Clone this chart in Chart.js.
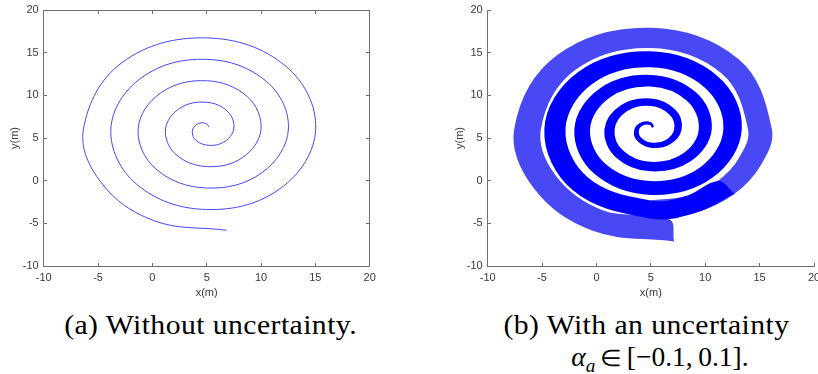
<!DOCTYPE html>
<html>
<head>
<meta charset="utf-8">
<script src="https://cdn.jsdelivr.net/npm/chart.js@4.4.0/dist/chart.umd.min.js"></script>
<style>
  html, body { margin: 0; padding: 0; background: #fff; }
  #page { position: relative; width: 818px; height: 374px; overflow: hidden; background: #fff; }
  canvas { position: absolute; top: 0; }
  #chartA { left: 0; }
  #chartB { left: 409px; }
  .caption { position: absolute; font-family: "Liberation Serif", "Times New Roman", serif; font-size: 27.5px;
             line-height: 32px; color: #000; text-align: center; white-space: nowrap; }
  .caption span { display: inline-block; transform: scaleX(1.08); letter-spacing: 0.4px; }
  .caption span.math { transform: none; letter-spacing: 0; }
  .caption sub { font-size: 0.7em; line-height: 0; vertical-align: -0.3em; }
  .caption .rel { font-size: 0.85em; }
</style>
</head>
<body>
<div id="page">
  <canvas id="chartA" width="409" height="300"></canvas>
  <canvas id="chartB" width="409" height="300"></canvas>
  <div class="caption" style="left:0; width:422px; top:309px;"><span>(a) Without uncertainty.</span></div>
  <div class="caption" style="left:400px; width:492px; top:309px;"><span>(b) With an uncertainty</span></div>
  <div class="caption" style="left:412px; width:496px; top:341px;"><span class="math"><i>α</i><sub><i>a</i></sub>&thinsp;<span class="rel">∈</span>&thinsp;[−0.1,&thinsp;0.1].</span></div>
</div>
<script>
// axis ticks, same on both panels
const tickValues = [-10, -5, 0, 5, 10, 15, 20];

// (a) nominal trajectory, read every eighth of a turn from the inner hook out to the end
const pathX = [5.20, 4.98, 4.31, 3.72, 3.86, 4.98, 6.53, 7.49, 6.97, 4.98, 2.53, 1.21, 2.09, 4.98, 8.31, 10.00,
               8.75, 4.98, 0.75, -1.31, 0.31, 4.98, 10.09, 12.52, 10.53, 4.98, -1.02, -3.82, -1.47, 4.98, 11.86, 15.03,
               12.31, 4.98, -2.80, -6.34, -4.70, 0.11, 6.83];
const pathY = [6.27, 6.68, 6.72, 6.05, 4.94, 4.17, 4.50, 6.05, 8.05, 9.19, 8.49, 6.05, 3.16, 1.65, 2.72, 6.05,
               9.83, 11.71, 10.27, 6.05, 1.39, -0.86, 0.94, 6.05, 11.60, 14.22, 12.05, 6.05, -0.39, -3.38, -0.84, 6.05,
               13.38, 16.73, 13.83, 6.05, -0.24, -4.67, -5.81];

// (b) outer and inner edge of the uncertainty band (two extra points around the colour change)
const bandOuterX = [5.22, 4.98, 4.24, 3.59, 3.75, 4.98, 6.69, 7.74, 7.17, 4.98, 2.29, 0.83, 1.80, 4.98, 8.64, 10.51,
                    9.13, 4.98, 0.33, -1.94, -0.16, 4.98, 10.60, 13.27, 11.08, 4.98, -1.62, -4.70, -2.11, 4.98, 9.01, 12.55,
                    15.03, 16.03, 13.04, 4.98, -3.58, -7.47, -5.67, -0.37, 7.02];
const bandOuterY = [6.29, 6.74, 6.78, 6.05, 4.83, 3.98, 4.34, 6.05, 8.25, 9.51, 8.74, 6.05, 2.87, 1.21, 2.39, 6.05,
                    10.21, 12.27, 10.69, 6.05, 0.92, -1.55, 0.43, 6.05, 12.16, 15.04, 12.65, 6.05, -1.04, -4.32, -3.69, -1.53,
                    1.88, 6.05, 14.11, 17.80, 14.60, 6.05, -0.86, -5.74, -6.99];
const bandInnerX = [5.18, 4.98, 4.38, 3.84, 3.98, 4.98, 6.38, 7.24, 6.77, 4.98, 2.78, 1.58, 2.38, 4.98, 7.97, 9.50,
                    8.37, 4.98, 1.18, -0.68, 0.78, 4.98, 9.57, 11.76, 9.97, 4.98, -0.42, -2.94, -0.82, 4.98, 8.28, 11.17,
                    13.20, 14.02, 11.57, 4.98, -2.02, -5.20, -3.74, 0.60, 6.65];
const bandInnerY = [6.25, 6.62, 6.65, 6.05, 5.05, 4.35, 4.65, 6.05, 7.85, 8.88, 8.25, 6.05, 3.45, 2.09, 3.05, 6.05,
                    9.45, 11.14, 9.85, 6.05, 1.85, -0.17, 1.45, 6.05, 11.05, 13.40, 11.45, 6.05, 0.25, -2.43, -1.92, -0.15,
                    2.64, 6.05, 12.65, 15.66, 13.05, 6.05, 0.39, -3.60, -4.62];
const lightFrom = 31; // the outermost turn of the band is lighter from this point on

const lineBlue = 'rgb(70, 70, 255)';
const solidBlue = 'rgb(0, 0, 255)';
const lightBlue = 'rgb(72, 72, 244)';
const axisColor = '#6f6f6f';
const labelColor = '#3a3a3a';
const tickFont = { family: 'Liberation Sans, Arial, sans-serif', size: 11 };
const curve = 0.38;

const toPoints = (xs, ys) => xs.map((x, i) => ({ x: x, y: ys[i] }));

// MATLAB style axes: lines and inward tick marks
const matlabAxes = {
    id: 'matlabAxes',
    afterDatasetsDraw(chart, args, opts) {
        const { ctx, chartArea: a } = chart;
        const xs = chart.scales.x, ys = chart.scales.y;
        const crisp = v => Math.round(v - 0.5) + 0.5;
        const L = crisp(a.left), R = crisp(a.right), T = crisp(a.top), B = crisp(a.bottom);
        const len = 3.5;
        ctx.save();
        ctx.strokeStyle = axisColor;
        ctx.lineWidth = 1;
        ctx.beginPath();
        ctx.moveTo(L, T); ctx.lineTo(L, B); ctx.lineTo(R, B);
        if (opts.box) { ctx.lineTo(R, T); ctx.lineTo(L, T); }
        tickValues.forEach(v => {
            const px = crisp(xs.getPixelForValue(v));
            ctx.moveTo(px, B); ctx.lineTo(px, B - len);
            if (opts.box) { ctx.moveTo(px, T); ctx.lineTo(px, T + len); }
            const py = crisp(ys.getPixelForValue(v));
            ctx.moveTo(L, py); ctx.lineTo(L + len, py);
            if (opts.box) { ctx.moveTo(R, py); ctx.lineTo(R - len, py); }
        });
        ctx.stroke();
        ctx.restore();
    }
};

function makeScales(yTitlePad) {
    return {
        x: {
            type: 'linear', min: -10, max: 20,
            grid: { display: false, drawTicks: false },
            border: { display: false },
            ticks: { stepSize: 5, padding: 5, color: labelColor, font: tickFont, maxRotation: 0, autoSkip: false },
            title: { display: true, text: 'x(m)', color: labelColor, font: tickFont, padding: { top: 0, bottom: 0 } },
            afterFit: s => { s.height = 34; s.paddingLeft = 0; s.paddingRight = 0; }
        },
        y: {
            type: 'linear', min: -10, max: 20,
            grid: { display: false, drawTicks: false },
            border: { display: false },
            ticks: { stepSize: 5, padding: 5, color: labelColor, font: tickFont, autoSkip: false },
            title: { display: true, text: 'y(m)', color: labelColor, font: tickFont, padding: { top: yTitlePad, bottom: 0 } },
            afterFit: s => { s.width = 43.7; s.paddingTop = 0; s.paddingBottom = 0; }
        }
    };
}

const baseOptions = (padding, yTitlePad, box) => ({
    responsive: false,
    animation: false,
    devicePixelRatio: 1,
    events: [],
    layout: { padding: padding },
    plugins: { legend: { display: false }, tooltip: { enabled: false }, matlabAxes: { box: box } },
    scales: makeScales(yTitlePad)
});

// (a) without uncertainty
new Chart(document.getElementById('chartA'), {
    type: 'line',
    data: {
        datasets: [{
            data: toPoints(pathX, pathY),
            borderColor: lineBlue,
            borderWidth: 1,
            pointRadius: 0,
            tension: curve,
            fill: false
        }]
    },
    options: baseOptions({ left: 0, top: 10, right: 39.3, bottom: 0 }, 8.4, true),
    plugins: [matlabAxes]
});

// (b) with uncertainty: outer edge out to the end, across the end, inner edge back.
// The light part starts a bit early and sits under the solid part, so the join stays smooth.
const outer = toPoints(bandOuterX, bandOuterY);
const inner = toPoints(bandInnerX, bandInnerY);
const last = outer.length - 1;
const solidShape = [...outer.slice(0, lightFrom + 1), outer[lightFrom], ...inner.slice(0, lightFrom + 1).reverse()];
const lightShape = [...outer.slice(lightFrom - 2), outer[last], ...inner.slice(lightFrom - 2).reverse()];

new Chart(document.getElementById('chartB'), {
    type: 'line',
    data: {
        datasets: [
            { data: solidShape, order: 0, backgroundColor: solidBlue, borderColor: solidBlue, borderWidth: 2, pointRadius: 0, tension: curve, fill: 'shape' },
            { data: lightShape, order: 1, backgroundColor: lightBlue, borderColor: lightBlue, borderWidth: 2, pointRadius: 0, tension: curve, fill: 'shape' }
        ]
    },
    options: baseOptions({ left: 35, top: 10, right: 4, bottom: 0 }, 9.4, false),
    plugins: [matlabAxes]
});
</script>
</body>
</html>
